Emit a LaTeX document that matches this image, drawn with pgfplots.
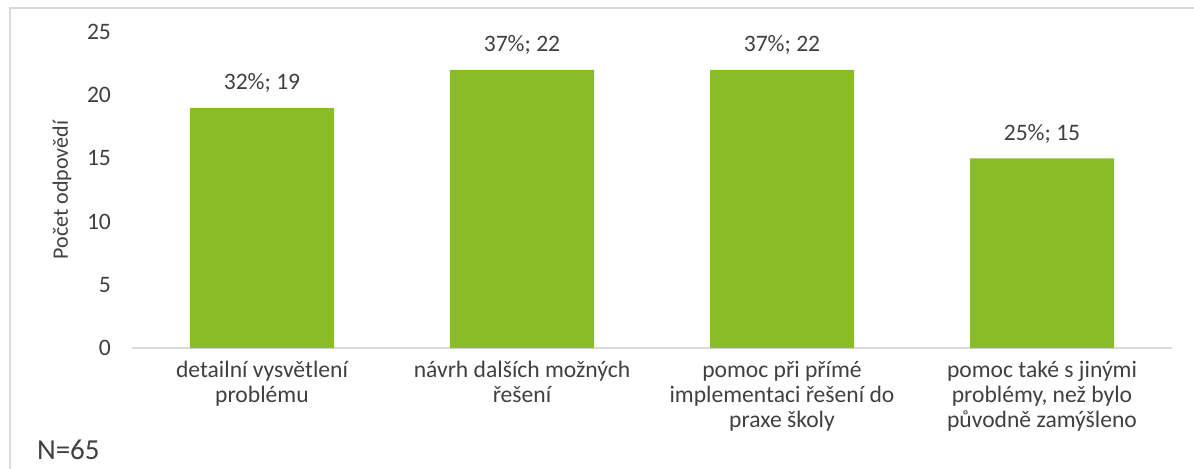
\documentclass[border=0pt]{standalone}
\usepackage{pgfplots}
\pgfplotsset{compat=1.18}
\usepackage{fontspec}
\setmainfont{Carlito}
\definecolor{bargreen}{HTML}{8ABC28}
\definecolor{txt}{HTML}{404040}
\definecolor{framegray}{HTML}{D9D9D9}
\begin{document}
\begin{tikzpicture}
\useasboundingbox (-66pt,-60pt) rectangle (531pt,174pt);
\draw[framegray, line width=1.3pt] (-61pt,-61pt) -- (-61pt,170pt) -- (532pt,170pt);
\begin{axis}[
    at={(0pt,0pt)}, anchor=south west,
    scale only axis,
    width=520pt, height=158pt,
    ybar, bar width=72pt,
    xmin=-0.5, xmax=3.5,
    ymin=0, ymax=25,
    ytick={0,5,10,15,20,25},
    xtick={0,1,2,3},
    xticklabels={{detailní vysvětlení\\problému},{návrh dalších možných\\řešení},{pomoc při přímé\\implementaci řešení do\\praxe školy},{pomoc také s jinými\\problémy, než bylo\\původně zamýšleno}},
    axis x line*=bottom, axis y line*=left,
    x axis line style={framegray, line width=1.2pt, -},
    y axis line style={draw=none},
    tick style={draw=none},
    major tick length=0pt,
    /pgf/number format/assume math mode=true,
    ticklabel style={font=\fontsize{11.8}{12.6}\selectfont, text=txt},
    yticklabel style={anchor=east, xshift=-7pt},
    xticklabel style={align=center, anchor=north, yshift=-3pt},
    ylabel={Počet odpovědí},
    ylabel style={at={(axis description cs:-0.0673,0.5)}, anchor=center, font=\fontsize{11}{13}\selectfont, text=txt},
    point meta=explicit,
    nodes near coords={\pgfmathprintnumber{\pgfplotspointmeta}\%; \pgfmathprintnumber{\pgfkeysvalueof{/data point/y}}},
    every node near coord/.append style={font=\fontsize{11.8}{13}\selectfont, text=txt, yshift=4pt},
]
\addplot[fill=bargreen, draw=none] coordinates {
    (0,19) [32]
    (1,22) [37]
    (2,22) [37]
    (3,15) [25]
};
\end{axis}
\node[anchor=west, font=\fontsize{14.5}{17}\selectfont, text=txt] at (-51pt,-51pt) {N=65};
\end{tikzpicture}
\end{document}
